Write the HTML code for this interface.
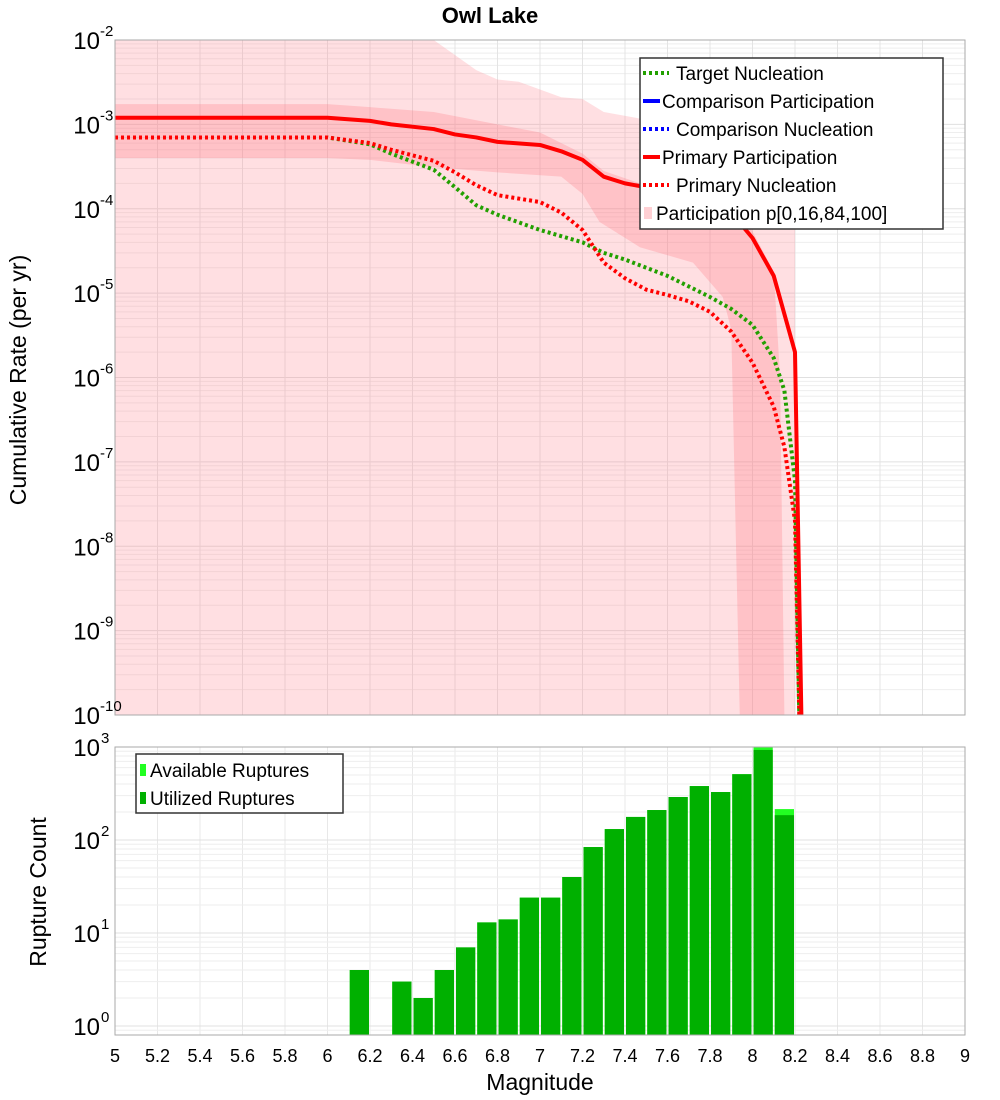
<!DOCTYPE html>
<html><head><meta charset="utf-8"><style>
body{margin:0;background:#fff;}
svg{display:block;font-family:"Liberation Sans","DejaVu Sans",sans-serif;}
</style></head><body>
<svg id="chart" width="1000" height="1100" xmlns="http://www.w3.org/2000/svg">
<text x="490" y="23" text-anchor="middle" font-size="22" font-weight="bold">Owl Lake</text>
<g id="topg"></g><g id="botg"></g>
</svg>
<script>
const xTicks=[5,5.2,5.4,5.6,5.8,6,6.2,6.4,6.6,6.8,7,7.2,7.4,7.6,7.8,8,8.2,8.4,8.6,8.8,9];
const topExps=[-2,-3,-4,-5,-6,-7,-8,-9,-10];
const botExps=[3,2,1,0];
const ppMag=[5,6.0,6.2,6.3,6.5,6.6,6.7,6.8,7.0,7.1,7.2,7.3,7.4,7.5,7.6,7.7,7.8,7.9,8.0,8.1,8.2,8.23];
const ppVal=[1.2e-3,1.2e-3,1.1e-3,1.0e-3,8.8e-4,7.6e-4,7.0e-4,6.2e-4,5.7e-4,4.8e-4,3.8e-4,2.4e-4,2.0e-4,1.8e-4,1.7e-4,1.5e-4,1.2e-4,9e-5,4.5e-5,1.6e-5,2e-6,1e-10];
const pnMag=[5,6.0,6.2,6.3,6.5,6.6,6.7,6.8,7.0,7.1,7.2,7.3,7.4,7.5,7.6,7.7,7.8,7.9,8.0,8.1,8.15,8.2,8.22];
const pnVal=[7e-4,7e-4,6e-4,5e-4,3.7e-4,2.7e-4,1.9e-4,1.45e-4,1.2e-4,9e-5,5.6e-5,2.3e-5,1.5e-5,1.1e-5,9.5e-6,8e-6,6e-6,3.5e-6,1.5e-6,4.5e-7,1.5e-7,2e-8,1e-10];
const tnMag=[5,6.0,6.2,6.3,6.5,6.6,6.7,6.8,7.0,7.2,7.3,7.4,7.5,7.6,7.7,7.8,7.9,8.0,8.1,8.15,8.2,8.22];
const tnVal=[7e-4,7e-4,5.8e-4,4.5e-4,2.9e-4,1.8e-4,1.1e-4,8.5e-5,5.6e-5,4e-5,3e-5,2.5e-5,2e-5,1.6e-5,1.2e-5,9e-6,6.5e-6,4.2e-6,1.7e-6,7e-7,6e-8,1e-10];
const outerMag=[5,6.5,6.7,6.8,6.9,7.1,7.2,7.3,7.45,7.6,7.7,7.8,7.9,8.0,8.1,8.2,8.2];
const outerHi=[1e-1,1e-2,4.4e-3,3.4e-3,3.2e-3,2.1e-3,2e-3,1.4e-3,1.2e-3,1e-3,7e-4,4e-4,2.5e-4,1.5e-4,8e-5,5.6e-5,1e-10];
const innerMag=[5,6.0,6.2,6.5,6.8,7.0,7.2,7.3,7.47,7.7,7.86,7.99,8.1,8.13,8.15];
const innerHi=[1.74e-3,1.74e-3,1.6e-3,1.4e-3,1e-3,8e-4,4.5e-4,2.8e-4,2e-4,1.6e-4,1.3e-4,6e-5,1.8e-5,1e-6,1e-10];
const innerLoMag=[5,6.0,6.2,6.5,6.8,7.1,7.2,7.28,7.47,7.72,7.86,7.9,7.94];
const innerLo=[4e-4,4e-4,3.8e-4,3.1e-4,2.7e-4,2.4e-4,1.5e-4,7e-5,3.5e-5,2.3e-5,9e-6,3.7e-6,1e-10];
const binStart=[6.1,6.3,6.4,6.5,6.6,6.7,6.8,6.9,7.0,7.1,7.2,7.3,7.4,7.5,7.6,7.7,7.8,7.9,8.0,8.1];
const utilized=[4,3,2,4,7,13,14,24,24,40,84,131,177,210,290,380,328,510,930,185];
const available=[4,3,2,4,7,13,14,24,24,40,84,131,177,210,290,380,328,510,1000,215];

const NS='http://www.w3.org/2000/svg';
const X0=115,X1=965;
function sx(m){return X0+(m-5)/4*(X1-X0);}
const T0=40,T1=715;
function sy(v){let l=Math.log10(Math.max(v,1e-10));return T0+(-2-l)/8*(T1-T0);}
const B0=747,Bdec=93;
function by(v){return B0+(3-Math.log10(v))*Bdec;}
const BB=1035;
function mk(p,tag,attrs){const e=document.createElementNS(NS,tag);for(const k in attrs)e.setAttribute(k,attrs[k]);p.appendChild(e);return e;}
const topG=document.getElementById('topg'),botG=document.getElementById('botg');

for(let d=-10;d<-2;d++){for(let k=1;k<10;k++){const y=sy(k*Math.pow(10,d));const l=mk(topG,'line',{x1:X0,x2:X1,y1:y,y2:y,stroke:k==1?'#e0e0e0':'#eeeeee','stroke-width':1});

}}
xTicks.forEach(t=>{const x=sx(t);const l=mk(topG,'line',{x1:x,x2:x,y1:T0,y2:T1,stroke:'#e4e4e4'});


const l2=mk(botG,'line',{x1:x,x2:x,y1:B0,y2:BB,stroke:'#e8e8e8'});

});
function bandPath(mA,hi,mB,lo){let d='';mA.forEach((m,i)=>{d+=(i?'L':'M')+sx(m)+','+Math.max(T0,sy(hi[i]));});for(let i=mB.length-1;i>=0;i--)d+='L'+sx(mB[i])+','+Math.max(T0,sy(lo[i]));return d+'Z';}
const ob=mk(topG,'path',{d:bandPath(outerMag,outerHi,[5,8.2],[1e-10,1e-10]),fill:'rgb(255,140,150)','fill-opacity':0.28});


const ib=mk(topG,'path',{d:bandPath(innerMag,innerHi,innerLoMag,innerLo),fill:'rgb(255,120,130)','fill-opacity':0.28});


function line(mags,vals,color,dash,name){const pts=mags.map((m,i)=>sx(m)+','+sy(vals[i])).join(' ');const a={points:pts,fill:'none',stroke:color,'stroke-width':4,'stroke-linejoin':'round'};if(dash)a['stroke-dasharray']=dash;const e=mk(topG,'polyline',a);

}
line(tnMag,tnVal,'#22a000','3 3','target-nucleation-line');
line(pnMag,pnVal,'#ff0000','3 3','primary-nucleation-line');
line(ppMag,ppVal,'#ff0000',null,'primary-participation-line');
const tb=mk(topG,'rect',{x:X0,y:T0,width:X1-X0,height:T1-T0,fill:'none',stroke:'#aaaaaa'});


topExps.forEach(e=>{const y=sy(Math.pow(10,e));const t=mk(topG,'text',{x:100,y:y+9,'text-anchor':'end','font-size':24});t.textContent='10';


const s=mk(topG,'text',{x:100,y:y-4,'font-size':15});s.textContent=String(e);

});
const yt=mk(topG,'text',{x:0,y:0,'font-size':23,'text-anchor':'middle',transform:'translate(26,380) rotate(-90)'});yt.textContent='Cumulative Rate (per yr)';


const lg=mk(topG,'g',{});


mk(lg,'rect',{x:640,y:58,width:303,height:171,fill:'#fff',stroke:'#333','stroke-width':1.5});
const entries=[['Target Nucleation','#22a000','dot',676],['Comparison Participation','#0000ff','solid',662],['Comparison Nucleation','#0000ff','dot',676],['Primary Participation','#ff0000','solid',662],['Primary Nucleation','#ff0000','dot',676],['Participation p[0,16,84,100]','#ffd0d4','box',656]];
entries.forEach((en,i)=>{const y=73+i*28;
if(en[2]==='box'){mk(lg,'rect',{x:644,y:y-6,width:8,height:12,fill:en[1]});}
else{const a={x1:643,x2:en[2]==='dot'?669:660,y1:y,y2:y,stroke:en[1],'stroke-width':4};if(en[2]==='dot')a['stroke-dasharray']='3 3';mk(lg,'line',a);}
const t=mk(lg,'text',{x:en[3],y:y+7,'font-size':19});t.textContent=en[0];

});

for(let d=-1;d<3;d++){for(let k=1;k<10;k++){const v=k*Math.pow(10,d);const y=by(v);if(y>BB||y<B0)continue;const l=mk(botG,'line',{x1:X0,x2:X1,y1:y,y2:y,stroke:k==1?'#e0e0e0':'#eeeeee'});

}}
binStart.forEach((m,i)=>{const x=sx(m)+1,w=sx(m+0.1)-sx(m)-2;
const a=mk(botG,'rect',{x:x,y:by(available[i]),width:w,height:BB-by(available[i]),fill:'#22ff22'});


const u=mk(botG,'rect',{x:x,y:by(utilized[i]),width:w,height:BB-by(utilized[i]),fill:'#00b000'});

});
const bb=mk(botG,'rect',{x:X0,y:B0,width:X1-X0,height:BB-B0,fill:'none',stroke:'#aaaaaa'});


botExps.forEach(e=>{const y=by(Math.pow(10,e));const t=mk(botG,'text',{x:100,y:y+9,'text-anchor':'end','font-size':24});t.textContent='10';


const s=mk(botG,'text',{x:101,y:y-4,'font-size':15});s.textContent=String(e);

});
xTicks.forEach(t=>{const e=mk(botG,'text',{x:sx(t),y:1062,'text-anchor':'middle','font-size':18});e.textContent=String(t);

});
const xt=mk(botG,'text',{x:540,y:1090,'text-anchor':'middle','font-size':23});xt.textContent='Magnitude';


const yb=mk(botG,'text',{x:0,y:0,'font-size':23,'text-anchor':'middle',transform:'translate(46,892) rotate(-90)'});yb.textContent='Rupture Count';


const lb=mk(botG,'g',{});


mk(lb,'rect',{x:136,y:754,width:207,height:59,fill:'#fff',stroke:'#333','stroke-width':1.5});
[['Available Ruptures','#22ff22'],['Utilized Ruptures','#00b000']].forEach((en,i)=>{const y=770+i*28;mk(lb,'rect',{x:140,y:y-6,width:6,height:12,fill:en[1]});const t=mk(lb,'text',{x:150,y:y+7,'font-size':19});t.textContent=en[0];

});
</script>
</body></html>
